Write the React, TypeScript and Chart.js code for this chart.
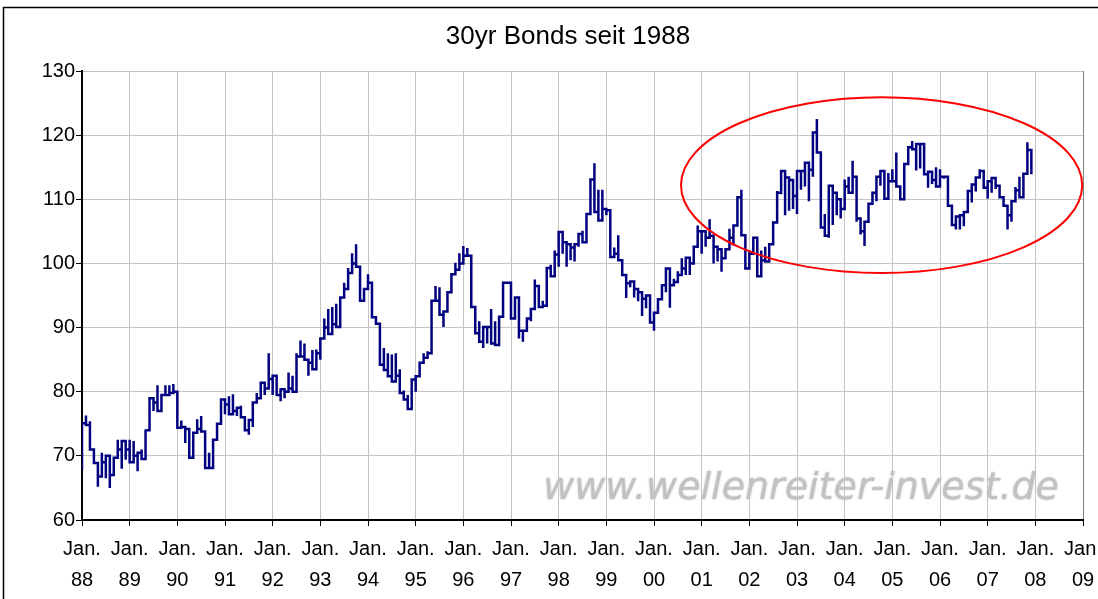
import { useEffect, useRef } from 'react';
import { Chart, registerables } from 'chart.js';

Chart.register(...registerables);

// Monthly readings: each month holds [first, last] plotted on the same month slot
const y1988 = [[67.8,75.1],[76.3,74.8],[75.4,71],[69.1,68.9],[65.2,66.8],[70.5,69],[66.5,70],[65,67],[67.8,69.7],[72.5,71],[68,72.3],[69.4,71]];
const y1989 = [[72.5,69],[72.3,70],[67.6,70.5],[71,69.5],[74.1,74],[74,79],[77,78.3],[81,77],[78.5,79.5],[81,79.5],[81,79.8],[81.2,80]];
const y1990 = [[79.5,74.4],[75.5,74.5],[72,74.2],[72.5,69.7],[69.7,73.6],[75.7,74.2],[76.2,73.8],[74,68.1],[70.5,68.1],[71,72.5],[74.1,75],[76,78.8]];
const y1991 = [[76.5,78],[79.3,76.5],[79.6,77],[76.2,77.5],[77.8,76],[75.5,74],[73.3,75.6],[74.5,78.3],[79.8,79],[80,81.4],[79.5,80.5],[86,82]];
const y1992 = [[79.5,82.5],[80,79.5],[78.5,80.4],[79,80],[83,80.5],[82.5,80],[86,85.5],[88,85.5],[87.5,85],[82.5,84.5],[86.5,83.5],[86.6,86]];
const y1993 = [[85,88.3],[91.4,90],[92.9,89],[93.2,90.5],[93.7,90.1],[92,94.7],[97,96],[99.3,98.5],[101.6,100],[103,99.5],[98.8,94.2],[95.5,96]];
const y1994 = [[98.3,97],[95.5,91.6],[91,90.6],[87.3,84.2],[86.8,83.4],[86,82.4],[85.8,81.6],[86,82.5],[83.5,79.8],[80.2,78.8],[79.5,77.3],[79,81.9]];
const y1995 = [[80,82.4],[84.5,84.5],[86,85.3],[86.3,86],[93.4,94.2],[96.5,94.2],[96.3,92],[90.1,92.5],[94.2,95.5],[98.3,98.3],[100.1,99],[101.6,100]];
const y1996 = [[102.7,101.2],[102.4,101.2],[95.5,93.2],[92,89.1],[91,87.8],[86.8,90.1],[87.5,90.1],[92.9,87.5],[91,87.3],[90.4,91.7],[94,97],[97,97]];
const y1997 = [[92.7,91.4],[92.2,94.7],[88.3,89.5],[87.8,89.5],[90.4,91.4],[91,92.9],[97.5,96.5],[95.7,93.2],[94.2,93.4],[96.5,99.3],[99.8,98],[102,101.4]];
const y1998 = [[99.5,104.9],[101.5,103.3],[99.5,103],[100.5,102.5],[100.3,103],[102.6,104.6],[105.1,103.3],[105,107.7],[112.6,113.1],[115.6,108],[111.5,106.7],[111.5,108.5]];
const y1999 = [[107.5,108.3],[105.6,101],[102.5,101.5],[104.4,100.5],[98.5,98.2],[94.6,96.9],[96.3,97.2],[94.7,96],[94.1,95.5],[91.8,94.5],[93,95],[92.3,90.8]];
const y2000 = [[89.5,92.3],[92.8,94.4],[95,96.6],[95.5,99.2],[93.1,96.6],[97.6,97.1],[98.8,98.2],[100.8,99.2],[98.2,100.9],[98.2,100],[102.6,102.6],[105.9,105]];
const y2001 = [[101.5,105],[102.6,104],[106.9,104.3],[100,102.6],[100.3,102.2],[98.7,100.8],[100.6,102.2],[105.4,104],[102.8,105.9],[106.4,110.3],[111.5,104.4],[103.5,99.2]];
const y2002 = [[102,101.5],[104.2,104],[100.9,98],[102,100.5],[102.6,100.3],[101.6,103],[104.5,106.4],[111.3,111],[110.8,114.4],[107.5,113.4],[108.2,113],[108.5,110.5]];
const y2003 = [[107.7,114.4],[111.5,114.4],[112,115.7],[109.7,114.6],[113.5,120.4],[122.5,117.3],[117.3,105.6],[107.7,104.3],[104,112.1],[106,111],[107.5,110],[107,108.5]];
const y2004 = [[113.1,112],[113.5,111],[116,113.5],[106.5,107],[104.5,105],[102.7,106.5],[109.3,109.3],[111,111],[109.7,113.5],[112.1,114.4],[113.1,110.1],[114.1,112.8]];
const y2005 = [[114.7,112.8],[117.3,112],[110.1,110],[115.1,115.5],[116.3,118.1],[119.1,117.8],[114.5,118.6],[114.8,118.6],[114.8,113.9],[111.8,114.3],[112.4,113],[115,112]];
const y2006 = [[114.7,113.5],[113.2,113.5],[109.2,109],[106.9,106],[105.3,107.3],[105.3,107.5],[105.8,108],[110.1,111.3],[109.5,112.3],[111.2,113.4],[114.7,114.4],[114.6,111.8]];
const y2007 = [[110.1,112.8],[111,113.3],[111.6,112.1],[111.8,110.3],[110.5,109],[105.3,107.5],[106.5,109.7],[111.9,111.4],[113.5,110.3],[113.5,114],[118.9,117.7],[113.9,116]];

const yearlyValues = [y1988, y1989, y1990, y1991, y1992, y1993, y1994, y1995, y1996, y1997, y1998, y1999, y2000, y2001, y2002, y2003, y2004, y2005, y2006, y2007];

const xTickYears = ['88','89','90','91','92','93','94','95','96','97','98','99','00','01','02','03','04','05','06','07','08','09'];
const xTickPrefix = 'Jan.';
const yMin = 60;
const yMax = 130;
const yStep = 10;

const titleText = '30yr Bonds seit 1988';
const watermarkText = 'www.wellenreiter-invest.de';

// Highlight ellipse in data units (months since Jan 88, bond value)
const ellipseCenterMonth = 201.3;
const ellipseCenterValue = 112.2;
const ellipseRadiusMonths = 50.5;
const ellipseRadiusValue = 13.7;

function buildPoints() {
  const pts: { x: number; y: number }[] = [];
  yearlyValues.forEach((months, yi) => {
    months.forEach((pair, mi) => {
      const x = yi * 12 + mi;
      pair.forEach((v) => pts.push({ x, y: v }));
    });
  });
  return pts;
}

const FONT = "'Liberation Sans', Arial, sans-serif";

const decorPlugin = {
  id: 'decor',
  beforeDraw(chart: any) {
    const { ctx, chartArea } = chart;
    ctx.save();
    ctx.fillStyle = '#ffffff';
    ctx.fillRect(0, 0, chart.width, chart.height);
    // outer frame
    ctx.strokeStyle = '#000000';
    ctx.lineWidth = 1.5;
    ctx.beginPath();
    ctx.moveTo(3.5, chart.height);
    ctx.lineTo(3.5, 7.5);
    ctx.lineTo(chart.width, 7.5);
    ctx.stroke();
    // title
    ctx.fillStyle = '#000';
    ctx.font = `26px ${FONT}`;
    ctx.textAlign = 'center';
    ctx.textBaseline = 'middle';
    ctx.fillText(titleText, 568, 37);
    // watermark
    ctx.font = "italic 38px 'DejaVu Sans', Verdana, sans-serif";
    ctx.fillStyle = '#c2c2c2';
    ctx.shadowColor = 'rgba(150,150,150,0.7)';
    ctx.shadowBlur = 2;
    ctx.textAlign = 'right';
    ctx.textBaseline = 'alphabetic';
    ctx.fillText(watermarkText, chartArea.right - 24, chartArea.bottom - 21);
    ctx.restore();
  },
  afterDatasetsDraw(chart: any) {
    const { ctx } = chart;
    const xs = chart.scales.x;
    const ys = chart.scales.y;
    const cx = xs.getPixelForValue(ellipseCenterMonth);
    const cy = ys.getPixelForValue(ellipseCenterValue);
    const rx = xs.getPixelForValue(ellipseCenterMonth + ellipseRadiusMonths) - cx;
    const ry = cy - ys.getPixelForValue(ellipseCenterValue + ellipseRadiusValue);
    ctx.save();
    ctx.strokeStyle = '#ff0000';
    ctx.lineWidth = 2;
    ctx.beginPath();
    ctx.ellipse(cx, cy, rx, ry, 0, 0, Math.PI * 2);
    ctx.stroke();
    ctx.restore();
  },
};

export default function App() {
  const ref = useRef<HTMLCanvasElement | null>(null);

  useEffect(() => {
    document.body.style.margin = '0';
    if (!ref.current) return;
    const lastTick = (xTickYears.length - 1) * 12;
    const chart = new Chart(ref.current, {
      type: 'line',
      data: {
        datasets: [
          {
            data: buildPoints(),
            borderColor: '#000080',
            borderWidth: 2.5,
            pointRadius: 0,
            stepped: true,
            fill: false,
          },
        ],
      },
      options: {
        animation: false,
        responsive: false,
        events: [],
        layout: { padding: { left: 0, right: 15, top: 71, bottom: 0 } },
        plugins: {
          legend: { display: false },
          tooltip: { enabled: false },
          title: { display: false },
        },
        scales: {
          x: {
            type: 'linear',
            min: 0,
            max: lastTick,
            afterFit(scale: any) {
              scale.height = 79;
              scale.paddingLeft = 0;
              scale.paddingRight = 0;
            },
            ticks: {
              stepSize: 12,
              autoSkip: false,
              maxRotation: 0,
              minRotation: 0,
              padding: 7.5,
              color: '#000',
              font: { family: FONT, size: 20, lineHeight: 1.55 },
              callback: (value: any) => [xTickPrefix, xTickYears[Math.round(Number(value) / 12)]],
            },
            grid: {
              color: (c: any) => (c.tick && c.tick.value === lastTick ? '#808080' : '#c4c4c4'),
              tickColor: '#000',
              tickLength: 6,
              lineWidth: 1,
            },
            border: { display: true, color: '#000', width: 2 },
          },
          y: {
            type: 'linear',
            min: yMin,
            max: yMax,
            afterFit(scale: any) {
              scale.width = 82;
              scale.paddingTop = 0;
              scale.paddingBottom = 0;
            },
            ticks: {
              stepSize: yStep,
              padding: 1,
              color: '#000',
              font: { family: FONT, size: 20 },
            },
            grid: {
              color: '#c4c4c4',
              tickColor: '#000',
              tickLength: 6,
              lineWidth: 1,
            },
            border: { display: true, color: '#000', width: 2 },
          },
        },
      },
      plugins: [decorPlugin],
    });
    return () => chart.destroy();
  }, []);

  return <canvas ref={ref} width={1098} height={599} style={{ display: 'block' }} />;
}
